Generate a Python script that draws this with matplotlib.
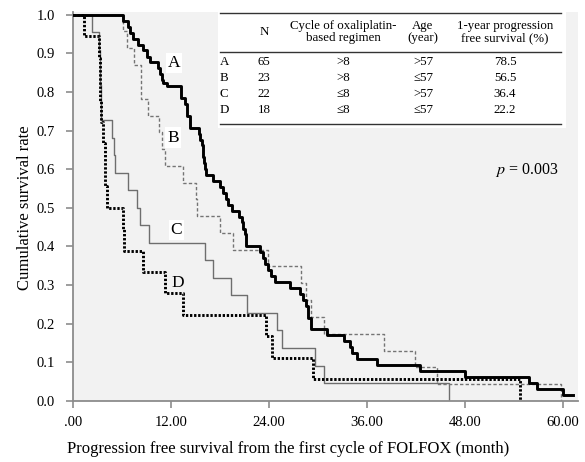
import matplotlib
matplotlib.use("Agg")
import matplotlib.pyplot as plt
from matplotlib.lines import Line2D
from matplotlib.patches import Rectangle

plt.rcParams['font.family'] = ['Liberation Serif', 'DejaVu Serif']
plt.rcParams['mathtext.fontset'] = 'stix'

# Kaplan-Meier steps (month, survival after the drop)
a_times = [6.2, 6.8, 7.0, 7.4, 8.0, 8.6, 9.1, 9.5, 10.5, 10.7, 10.9, 11.1, 11.5,
           13.3, 13.7, 14.0, 14.4, 15.4, 15.6, 15.8, 15.9, 16.0, 16.1, 16.2, 16.3,
           17.2, 18.0, 18.4, 18.8, 19.0, 19.5, 20.3, 20.7, 20.9, 21.1, 21.2,
           22.9, 23.3, 23.5, 23.9, 24.3, 24.8, 26.6, 27.8, 28.2, 28.5, 28.8, 29.2,
           31.1, 33.2, 33.9, 34.2, 34.8, 37.2, 42.5, 48.0, 55.8, 56.8, 60.0]
a_surv = [0.985, 0.969, 0.954, 0.938, 0.923, 0.908, 0.892, 0.877, 0.862, 0.846, 0.831, 0.823, 0.815,
          0.785, 0.769, 0.738, 0.708, 0.692, 0.677, 0.662, 0.646, 0.631, 0.615, 0.600, 0.585,
          0.569, 0.554, 0.538, 0.523, 0.508, 0.492, 0.477, 0.462, 0.446, 0.431, 0.400,
          0.385, 0.369, 0.354, 0.338, 0.323, 0.308, 0.292, 0.277, 0.262, 0.246, 0.215, 0.185,
          0.169, 0.154, 0.138, 0.123, 0.108, 0.092, 0.077, 0.062, 0.046, 0.031, 0.015]
a_end = 61.2

b_times = [6.2, 6.6, 7.5, 8.3, 8.4, 9.2, 10.6, 10.9, 11.3, 13.5, 15.1, 15.2,
           18.0, 19.6, 23.9, 27.9, 28.6, 29.2, 30.7, 38.1, 41.9, 44.6, 59.8]
b_surv = [0.957, 0.913, 0.870, 0.826, 0.783, 0.739, 0.696, 0.652, 0.609, 0.565, 0.522, 0.478,
          0.435, 0.391, 0.348, 0.304, 0.261, 0.217, 0.174, 0.130, 0.087, 0.043, 0.0]

c_times = [2.4, 3.2, 3.3, 3.4, 3.45, 3.5, 4.85, 5.1, 5.2, 6.8, 7.9, 8.2, 9.3,
           16.2, 17.2, 19.4, 21.3, 25.0, 25.6, 29.7, 30.8, 46.0]
c_surv = [0.955, 0.909, 0.864, 0.818, 0.773, 0.727, 0.682, 0.636, 0.591, 0.545, 0.500, 0.455, 0.409,
          0.364, 0.318, 0.273, 0.227, 0.182, 0.136, 0.091, 0.045, 0.0]

d_times = [1.4, 3.2, 3.3, 3.4, 3.5, 3.7, 3.9, 4.0, 4.2, 6.2, 6.3, 8.6, 11.3, 13.5,
           23.7, 24.4, 29.4, 54.7]
d_surv = [0.944, 0.889, 0.833, 0.778, 0.722, 0.667, 0.611, 0.556, 0.500, 0.444, 0.389, 0.333,
          0.278, 0.222, 0.167, 0.111, 0.056, 0.0]

# Tabelli oikeassa yläkulmassa
groups = ['A', 'B', 'C', 'D']
n_pts = ['65', '23', '22', '18']
cycles = ['>8', '>8', '≤8', '≤8']
ages = ['>57', '≤57', '>57', '≤57']
pfs_1y = ['78.5', '56.5', '36.4', '22.2']

x_ticks = [0, 12, 24, 36, 48, 60]
x_labels = ['.00', '12.00', '24.00', '36.00', '48.00', '60.00']
y_ticks = [0.0, 0.1, 0.2, 0.3, 0.4, 0.5, 0.6, 0.7, 0.8, 0.9, 1.0]

W, H = 585, 462
fig = plt.figure(figsize=(W / 100, H / 100), dpi=100)
ax_l, ax_r, ax_t, ax_b = 72.7, 578, 12, 400.7
ax = fig.add_axes([ax_l / W, (H - ax_b) / H, (ax_r - ax_l) / W, (ax_b - ax_t) / H])
ax.set_facecolor('#f2f2f2')


def km(times, surv, end=None):
    t = [0] + times
    s = [1.0] + surv
    if end is not None:
        t = t + [end]
        s = s + [surv[-1]]
    return t, s


t, s = km(c_times, c_surv)
ax.step(t, s, where='post', color='#6e6e6e', lw=1.0, zorder=2)
t, s = km(b_times, b_surv)
ax.step(t, s, where='post', color='#747474', lw=1.0, linestyle=(0, (2.4, 1.6)), zorder=2)
t, s = km(d_times, d_surv)
ax.step(t, s, where='post', color='black', lw=2.1, linestyle=(0, (0.8, 0.6)), zorder=3)
t, s = km(a_times, a_surv, a_end)
ax.step(t, s, where='post', color='black', lw=2.1, zorder=4)

# Käyrien kirjaimet valkoisella taustalla
lbl_box = dict(facecolor='white', edgecolor='none', pad=1.5)
ax.text(12.4, 0.876, 'A', fontsize=12.5, ha='center', va='center', bbox=lbl_box, zorder=6)
ax.text(12.3, 0.682, 'B', fontsize=12.5, ha='center', va='center', bbox=lbl_box, zorder=6)
ax.text(12.7, 0.443, 'C', fontsize=12.5, ha='center', va='center', bbox=lbl_box, zorder=6)
ax.text(12.8, 0.306, 'D', fontsize=12.5, ha='center', va='center', zorder=6)

ax.set_xlim(0, 61.85)
ax.set_ylim(0, 1.0075)
ax.set_xticks(x_ticks)
ax.set_xticklabels(x_labels)
ax.set_yticks(y_ticks)
ax.set_yticklabels(['%.1f' % v for v in y_ticks])
for side in ['top', 'right']:
    ax.spines[side].set_visible(False)
for side in ['left', 'bottom']:
    ax.spines[side].set_color('#8c8c8c')
    ax.spines[side].set_linewidth(1.3)
ax.tick_params(direction='out', length=5, width=1.2, color='#8c8c8c', labelsize=10.5)
ax.tick_params(axis='y', pad=8)
ax.tick_params(axis='x', pad=6)
ax.set_xlabel('Progression free survival from the first cycle of FOLFOX (month)', fontsize=12)
ax.xaxis.set_label_coords((288 - ax_l) / (ax_r - ax_l), (ax_b - 441) / (ax_b - ax_t))
ax.set_ylabel('Cumulative survival rate', fontsize=12)
ax.yaxis.set_label_coords((33 - ax_l) / (ax_r - ax_l), (ax_b - 208) / (ax_b - ax_t))


def fx(x):
    return x / W


def fy(y):
    return 1 - y / H


fig.add_artist(Rectangle((fx(218), fy(128)), fx(566) - fx(218), fy(12) - fy(128),
                         transform=fig.transFigure, facecolor='white', edgecolor='none', zorder=5))
for yy in [12.5, 51.7, 124.3]:
    fig.add_artist(Line2D([fx(220), fx(561)], [fy(yy), fy(yy)], transform=fig.transFigure,
                          color='#333333', lw=1.0, zorder=6))

tfs = 9.3
fig.text(fx(264), fy(32), 'N', fontsize=tfs, ha='center', va='center', zorder=7)
fig.text(fx(343), fy(32), 'Cycle of oxaliplatin-\nbased regimen', fontsize=tfs, ha='center',
         va='center', linespacing=1.1, zorder=7)
fig.text(fx(423), fy(32), 'Age\n(year)', fontsize=tfs, ha='center', va='center', linespacing=1.1, zorder=7)
fig.text(fx(505), fy(32), '1-year progression\nfree survival (%)', fontsize=tfs, ha='center',
         va='center', linespacing=1.1, zorder=7)
row_y = [62, 78, 94.3, 110]
for i in range(len(groups)):
    fig.text(fx(220), fy(row_y[i]), groups[i], fontsize=tfs, ha='left', va='center', zorder=7)
    fig.text(fx(264), fy(row_y[i]), n_pts[i], fontsize=tfs, ha='center', va='center', zorder=7)
    fig.text(fx(343), fy(row_y[i]), cycles[i], fontsize=tfs, ha='center', va='center', zorder=7)
    fig.text(fx(423), fy(row_y[i]), ages[i], fontsize=tfs, ha='center', va='center', zorder=7)
    fig.text(fx(505), fy(row_y[i]), pfs_1y[i], fontsize=tfs, ha='center', va='center', zorder=7)

fig.text(fx(559), fy(170), r'$p$ = 0.003', fontsize=11.5, ha='right', va='center', zorder=7)

fig.savefig('out.png', dpi=100)
